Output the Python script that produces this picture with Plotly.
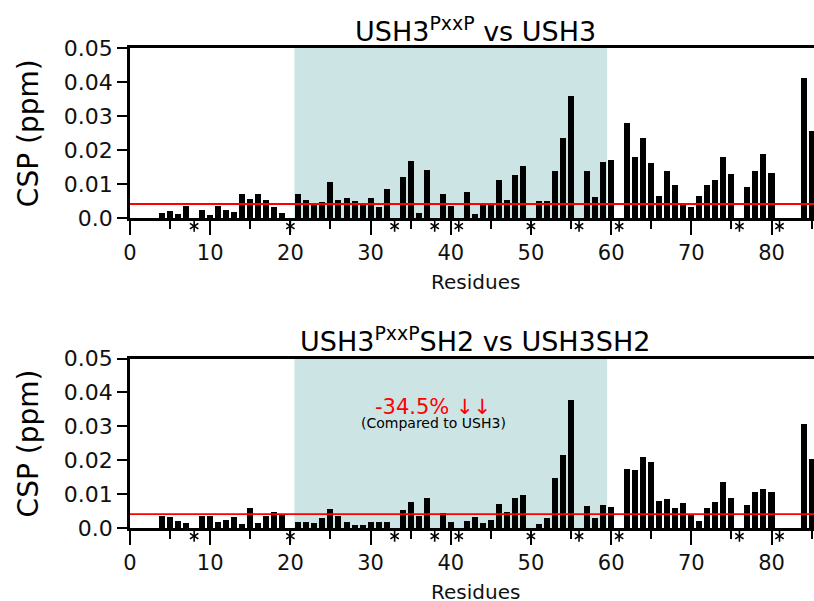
import plotly.graph_objects as go

# Residue numbering along the x axis
residues = list(range(1, 86))

# Chemical shift perturbations, USH3(PxxP) vs USH3 (None = no assignment)
csp_ush3 = [
    None, None, None, 0.0015, 0.0021, 0.0013, 0.0035, None, 0.0023, 0.0011,
    0.0036, 0.0023, 0.0018, 0.0071, 0.0056, 0.0071, 0.0054, 0.0032, 0.0015, None,
    0.0070, 0.0055, 0.0042, 0.0048, 0.0106, 0.0053, 0.0060, 0.0051, 0.0040, 0.0059,
    0.0033, 0.0086, None, 0.0122, 0.0168, 0.0015, 0.0143, None, 0.0071, 0.0036,
    None, 0.0076, 0.0012, 0.0044, 0.0045, 0.0112, 0.0053, 0.0128, 0.0154, None,
    0.0050, 0.0051, 0.0140, 0.0237, 0.0359, None, 0.0140, 0.0063, 0.0166, 0.0171,
    None, 0.0279, 0.0179, 0.0237, 0.0163, 0.0065, 0.0138, 0.0099, 0.0044, 0.0034,
    0.0066, 0.0099, 0.0112, 0.0180, 0.0130, None, 0.0093, 0.0138, 0.0190, 0.0132,
    None, None, None, 0.0411, 0.0256,
]

# Chemical shift perturbations, USH3(PxxP)SH2 vs USH3SH2
csp_ush3sh2 = [
    None, None, None, 0.0038, 0.0036, 0.0024, 0.0017, None, 0.0039, 0.0038,
    0.0019, 0.0026, 0.0034, 0.0014, 0.0060, 0.0017, 0.0037, 0.0050, 0.0045, None,
    0.0021, 0.0021, 0.0018, 0.0031, 0.0059, 0.0038, 0.0021, 0.0012, 0.0012, 0.0020,
    0.0021, 0.0020, None, 0.0054, 0.0079, 0.0039, 0.0090, None, 0.0046, 0.0021,
    None, 0.0024, 0.0034, 0.0016, 0.0026, 0.0074, 0.0050, 0.0091, 0.0101, None,
    0.0015, 0.0031, 0.0150, 0.0217, 0.0380, None, 0.0066, 0.0031, 0.0071, 0.0065,
    None, 0.0176, 0.0172, 0.0211, 0.0198, 0.0082, 0.0088, 0.0060, 0.0077, 0.0040,
    0.0024, 0.0060, 0.0080, 0.0138, 0.0092, None, 0.0070, 0.0107, 0.0116, 0.0107,
    None, None, None, 0.0309, 0.0206,
]

# Proline / unassigned residues marked with an asterisk
star_residues = [8, 20, 33, 38, 41, 50, 56, 61, 76, 81]

# Significance threshold and highlighted region
threshold = 0.0042
region = [20.5, 59.5]

x_ticks = [0, 10, 20, 30, 40, 50, 60, 70, 80]
y_ticks = [0, 0.01, 0.02, 0.03, 0.04, 0.05]
y_ticktext = ["0.0", "0.01", "0.02", "0.03", "0.04", "0.05"]

titles = ["USH3<sup>PxxP</sup> vs USH3", "USH3<sup>PxxP</sup>SH2 vs USH3SH2"]

FONT = "DejaVu Sans"
W, H = 814, 601
ML, MT, MB = 130, 48, 40
plot_bottom = H - MB
plot_h = H - MT - MB


def frac(px):
    """Convert a pixel row (from the top) to a paper fraction."""
    return (plot_bottom - px) / plot_h


top_domain = [frac(218.3), 1.0]
bot_domain = [frac(528.3), frac(358.5)]
# thin strips under each x axis that carry the asterisk markers
top_star_domain = [frac(234), frac(218.3)]
bot_star_domain = [frac(544), frac(528.3)]

fig = go.Figure()

panels = [
    ("x", "y", "y3", csp_ush3),
    ("x2", "y2", "y4", csp_ush3sh2),
]

for xa, ya, sa, vals in panels:
    fig.add_trace(go.Bar(
        x=residues, y=vals, xaxis=xa, yaxis=ya, width=0.75,
        marker=dict(color="black", line=dict(width=0)),
        showlegend=False, hoverinfo="x+y",
    ))
    # six-armed asterisk: two overlaid "Y" glyphs
    for sym in ("y-up-open", "y-down-open"):
        fig.add_trace(go.Scatter(
            x=star_residues, y=[0] * len(star_residues),
            xaxis=xa, yaxis=sa, mode="markers",
            marker=dict(symbol=sym, size=7, color="black",
                        line=dict(color="black", width=1.6)),
            showlegend=False, hoverinfo="skip",
        ))

axis_common_x = dict(
    range=[0, 85.3], tickvals=x_ticks, ticks="outside", ticklen=14, tickwidth=2,
    tickcolor="black", showline=True, linecolor="black", linewidth=2.5,
    mirror=True, showgrid=False, zeroline=False,
    tickfont=dict(family=FONT, size=21, color="#111"),
    minor=dict(dtick=5, tick0=0, ticks="outside", ticklen=8, tickwidth=2,
               tickcolor="black", showgrid=False),
)
axis_common_y = dict(
    range=[0, 0.05], tickvals=y_ticks, ticktext=y_ticktext, ticks="outside",
    ticklen=10, tickwidth=2, tickcolor="black", showline=True,
    linecolor="black", linewidth=2.5, showgrid=False, zeroline=False,
    tickfont=dict(family=FONT, size=22, color="#111"),
)
star_axis = dict(range=[-1, 1], visible=False, fixedrange=True)

fig.update_layout(
    width=W, height=H,
    margin=dict(l=ML, r=0, t=MT, b=MB, pad=0),
    paper_bgcolor="white", plot_bgcolor="rgba(0,0,0,0)",
    bargap=0,
    xaxis=dict(axis_common_x, anchor="y"),
    yaxis=dict(axis_common_y, domain=top_domain, anchor="x"),
    xaxis2=dict(axis_common_x, anchor="y2"),
    yaxis2=dict(axis_common_y, domain=bot_domain, anchor="x2"),
    yaxis3=dict(star_axis, domain=top_star_domain, anchor="x"),
    yaxis4=dict(star_axis, domain=bot_star_domain, anchor="x2"),
    font=dict(family=FONT, color="black"),
)

shapes = []
annotations = []
for i, (xa, ya, sa, vals) in enumerate(panels):
    xd = xa + " domain"
    yd = ya + " domain"
    # shaded region behind the bars
    shapes.append(dict(type="rect", xref=xa, yref=ya, x0=region[0], x1=region[1],
                       y0=0, y1=0.05, fillcolor="#cce4e4", line=dict(width=0),
                       layer="below"))
    # threshold line
    shapes.append(dict(type="line", xref=xd, yref=ya, x0=0, x1=1,
                       y0=threshold, y1=threshold,
                       line=dict(color="red", width=1.8), layer="above"))
    # panel title
    annotations.append(dict(text=titles[i], xref=xd, yref=yd, x=0.5044, y=1,
                            yshift=19, yanchor="middle", xanchor="center",
                            showarrow=False,
                            font=dict(family=FONT, size=27, color="black")))
    # axis titles
    annotations.append(dict(text="Residues", xref=xd, yref=yd, x=0.5044, y=0,
                            yshift=-64, yanchor="middle", xanchor="center",
                            showarrow=False,
                            font=dict(family=FONT, size=20, color="#111")))
    annotations.append(dict(text="CSP (ppm)", xref=xd, yref=yd, x=0, y=0.5,
                            xshift=-102, textangle=-90, xanchor="center",
                            yanchor="middle", showarrow=False,
                            font=dict(family=FONT, size=28, color="black")))

# percentage change note in the lower panel
annotations.append(dict(text="-34.5% ↓↓", xref="x2 domain", yref="y2 domain",
                        x=0.443, y=1, yshift=-48, yanchor="middle",
                        xanchor="center", showarrow=False,
                        font=dict(family=FONT, size=21, color="red")))
annotations.append(dict(text="(Compared to USH3)", xref="x2 domain",
                        yref="y2 domain", x=0.443, y=1, yshift=-64,
                        yanchor="middle", xanchor="center", showarrow=False,
                        font=dict(family=FONT, size=14, color="black")))

fig.update_layout(shapes=shapes, annotations=annotations)

fig.write_html("out.html")
